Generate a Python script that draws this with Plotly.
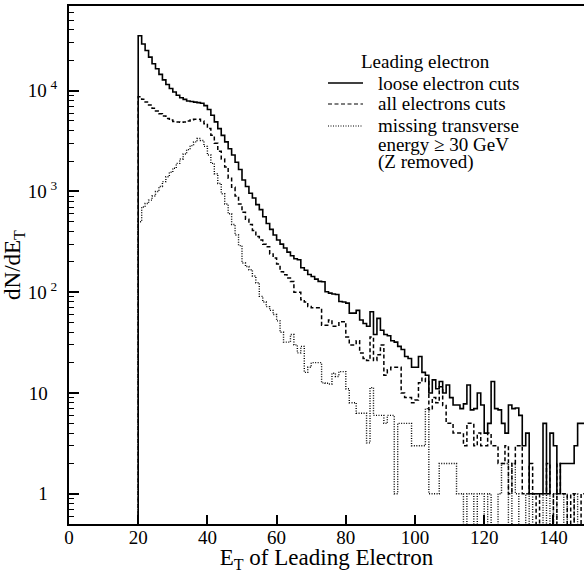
import plotly.graph_objects as go

# Bin left edges (1 GeV bins) starting at 20 GeV
bin_start = 20
bin_width = 1

loose_cuts = [
    35000, 29000, 25000, 21500, 18500, 16500, 14500, 12800, 11500, 10500,
    9700, 9000, 8500, 8200, 7900, 7800, 7700, 7600, 7500, 7100,
    6500, 5700, 4900, 4200, 3600, 3100, 2650, 2300, 1950, 1650,
    1300, 1120, 960, 860, 740, 660, 560, 480, 420, 370,
    330, 300, 275, 250, 230, 215, 210, 175, 165, 150,
    143, 135, 128, 127, 101, 98, 96, 95, 81, 80,
    78, 62, 62, 66, 53, 49, 46, 64, 38, 55,
    42, 38, 37, 33, 32, 29, 27, 23, 22, 18,
    18, 23, 16, 15, 10, 13.5, 11, 13, 10, 12,
    9, 7.6, 7.6, 7, 7.8, 12, 6.8, 7, 10, 7.6,
    4, 5, 13, 7, 6.8, 5, 4, 7.6, 7, 7.1,
    6, 3, 4, 1, 1, 1, 1, 5, 1, 4,
    3, 1, 2, 2, 2, 2, 3, 5, 5,
]

all_cuts = [
    8700, 8200, 7700, 7200, 6700, 6300, 5900, 5600, 5300, 5100,
    4950, 4900, 4850, 4900, 5000, 5100, 5200, 5200, 5000, 4700,
    4200, 3600, 3000, 2500, 2100, 1750, 1350, 1100, 900, 750,
    620, 530, 470, 410, 357, 330, 300, 283, 240, 218,
    190, 160, 149, 138, 128, 100, 100, 84, 80, 72,
    70, 70, 70, 47, 47, 53, 46, 46, 51, 51,
    36, 30, 30, 33, 25, 22, 21, 36, 21, 24,
    30, 15, 17, 18, 18, 18, 10, 9, 9, 8,
    8.5, 12.6, 14, 13, 6.8, 9, 8, 11.5, 7.5, 5,
    5, 4, 4, 4, 3, 5, 5, 3, 4, 3,
    3, 4, 3, 3, 2, 2, 3, 1, 2, 3,
    3, 1, 1, 2, 1, 0, 1, 1, 2, 1,
    0, 2, 1, 1, 0, 1, 0, 0, 1,
]

missing_et = [
    500, 700, 760, 820, 900, 1000, 1120, 1250, 1400, 1550,
    1700, 1900, 2100, 2350, 2600, 2850, 3100, 3350, 3200, 2800,
    2300, 1900, 1500, 1200, 950, 750, 600, 470, 370, 290,
    195, 180, 167, 145, 124, 91, 80, 72, 66, 60,
    52, 40, 32, 32, 38, 30, 25, 29, 16, 18,
    20, 20, 20, 12.6, 12.5, 12.3, 15.7, 14.6, 16.3, 16.3,
    11, 8, 8, 6.3, 6.3, 6.3, 3.2, 11.3, 6, 6,
    6, 5, 6, 6, 1, 5, 5, 5, 5, 3,
    3, 3, 3, 7, 1, 1, 1, 2, 2, 2,
    2, 2, 1, 1, 0, 1, 1, 0, 1, 1,
    0, 1, 0, 0, 1, 2, 2, 0, 2, 1,
    0, 0, 1, 0, 1, 1, 1, 0, 1, 0,
    1, 0, 0, 1, 0, 0, 1, 0, 0,
]

x_ticks = [0, 20, 40, 60, 80, 100, 120, 140]
y_ticks = [1, 10, 100, 1000, 10000]
y_ticktext = ["1\u2002", "10\u2002", "10\u2009<sup>2</sup>", "10\u2009<sup>3</sup>", "10\u2009<sup>4</sup>"]

series_names = [
    "loose electron cuts",
    "all electrons cuts",
    "missing transverse energy ≥ 30 GeV (Z removed)",
]

FLOOR = 0.05  # empty bins drop below the axis


def step_xy(values):
    n = len(values)
    edges = [bin_start + i * bin_width for i in range(n + 1)]
    ys = [v if v > 0 else FLOOR for v in values]
    xs = [edges[0]] + edges
    ys = [FLOOR] + ys + [ys[-1]]
    return xs, ys


FONT = "Liberation Serif"
fig = go.Figure()
styles = [
    dict(color="black", width=1.6, dash="solid"),
    dict(color="black", width=1.5, dash="4px,2.5px"),
    dict(color="black", width=1.4, dash="1px,1.5px"),
]
for vals, name, st in zip([loose_cuts, all_cuts, missing_et], series_names, styles):
    xs, ys = step_xy(vals)
    fig.add_trace(go.Scatter(x=xs, y=ys, mode="lines", name=name,
                             line=dict(shape="hv", **st), showlegend=False))

# plot area in pixels
L, R, T, B = 69, 584, 6, 524
W, H = 584, 573


def px(xp):
    return (xp - L) / (R - L)


def py(yp):
    return (B - yp) / (B - T)


minor_vals = []
for k in range(-1, 5):
    for d in range(2, 10):
        minor_vals.append(d * 10 ** k)

LEG_SIZE = 19
annotations = [
    dict(text="Leading electron", x=px(425), y=py(61), xref="paper", yref="paper",
         showarrow=False, xanchor="center", yanchor="middle",
         font=dict(family=FONT, size=LEG_SIZE, color="black")),
]
legend_rows = [
    ("loose electron cuts", 83),
    ("all electrons cuts", 104),
    ("missing transverse", 126),
    ("energy ≥ 30 GeV", 144),
    ("(Z removed)", 162),
]
for txt, yy in legend_rows:
    annotations.append(dict(text=txt, x=px(376), y=py(yy), xref="paper", yref="paper",
                            showarrow=False, xanchor="left", yanchor="middle",
                            font=dict(family=FONT, size=LEG_SIZE, color="black")))

shapes = []
for st, yy in zip(styles, [83, 104, 126]):
    shapes.append(dict(type="line", xref="paper", yref="paper",
                       x0=px(328), x1=px(363), y0=py(yy), y1=py(yy),
                       line=dict(color="black", width=1.2 if st["dash"] != "solid" else 1.3,
                                 dash=st["dash"])))

fig.update_layout(
    width=W, height=H,
    margin=dict(l=L, r=W - R, t=T, b=H - B, pad=0),
    paper_bgcolor="white", plot_bgcolor="white",
    showlegend=False,
    annotations=annotations,
    shapes=shapes,
    font=dict(family=FONT, color="black"),
)
fig.update_xaxes(
    range=[0, (R - L) / 3.46], tickvals=x_ticks, ticks="inside", ticklen=9, tickwidth=1.5,
    tickcolor="black", showline=True, linecolor="black", linewidth=2, mirror=True,
    showgrid=False, zeroline=False, automargin=False,
    tickfont=dict(family=FONT, size=19, color="black"),
    ticklabelstandoff=-5,
    title=dict(text="E<sub>T</sub> of Leading Electron",
               font=dict(family=FONT, size=23, color="black"), standoff=8),
)
fig.update_yaxes(
    type="log", range=[-0.3, 4.84], tickvals=y_ticks, ticktext=y_ticktext,
    ticks="inside", ticklen=10, tickwidth=1.5, tickcolor="black",
    minor=dict(tickvals=minor_vals, ticks="inside", ticklen=5, tickwidth=1.2,
               tickcolor="black", showgrid=False),
    showline=True, linecolor="black", linewidth=2, mirror=False,
    showgrid=False, zeroline=False, automargin=False,
    tickfont=dict(family=FONT, size=19, color="black"),
    ticklabelstandoff=6,
    title=dict(text="dN/dE<sub>T</sub>", font=dict(family=FONT, size=23, color="black"),
               standoff=3),
)

fig.write_html("out.html", config={"displayModeBar": False},
               post_script="document.body.style.margin='0';document.body.style.overflow='hidden';")
